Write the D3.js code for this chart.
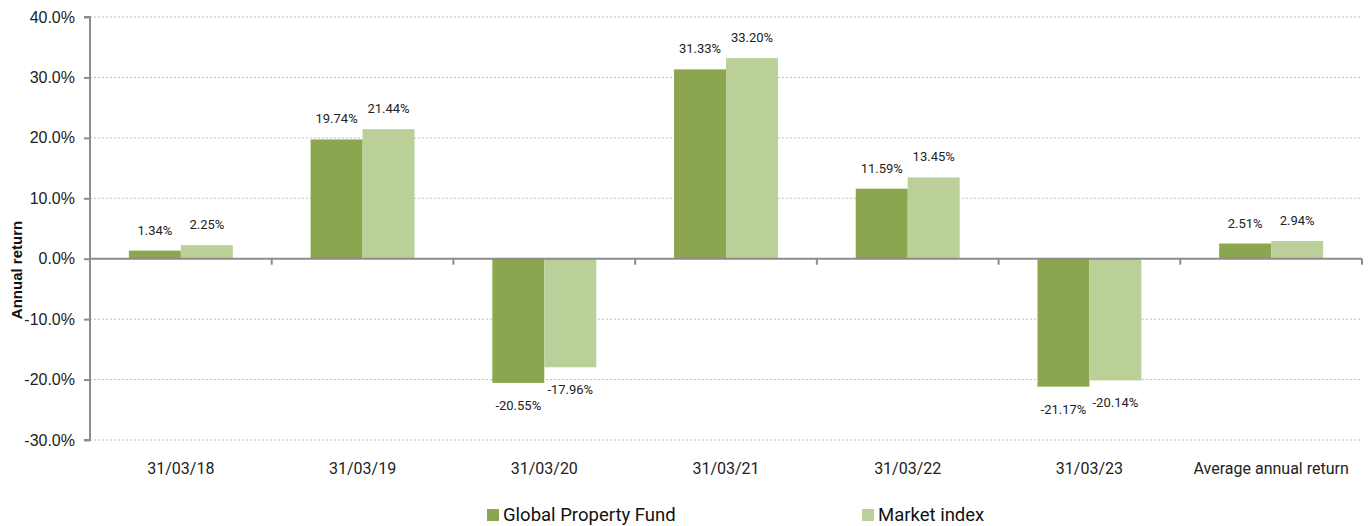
<!DOCTYPE html>
<html>
<head>
<meta charset="utf-8">
<script src="https://cdn.jsdelivr.net/npm/d3@7"></script>
<style>
  body { margin: 0; background: #fff; }
  svg { display: block; font-family: Roboto, "Noto Sans", sans-serif; }
  .axis path, .axis line { stroke: #8c8c8c; stroke-width: 2; }
  .axis text { fill: #222; font-size: 16px; }
  .grid line { stroke: #bdbdbd; stroke-dasharray: 2 2; stroke-width: 1; }
  .value { font-size: 13px; fill: #222; }
</style>
</head>
<body>
<div class="chart"></div>
<script>
const categories = ['31/03/18', '31/03/19', '31/03/20', '31/03/21', '31/03/22', '31/03/23', 'Average annual return']
const seriesNames = ['Global Property Fund', 'Market index']
const fundValues = [1.34, 19.74, -20.55, 31.33, 11.59, -21.17, 2.51]
const indexValues = [2.25, 21.44, -17.96, 33.20, 13.45, -20.14, 2.94]
const yTicks = [-30, -20, -10, 0, 10, 20, 30, 40]

const colors = ['#8ba64f', '#bad098']

const width = 1369
const height = 526
const margin = { top: 17, right: 7, bottom: 86, left: 90 }
const innerW = width - margin.left - margin.right
const innerH = height - margin.top - margin.bottom

const data = categories.map((c, i) => ({ cat: c, values: [fundValues[i], indexValues[i]] }))

const svg = d3.select('.chart').append('svg')
	.attr('width', width)
	.attr('height', height)

const g = svg.append('g')
	.attr('transform', `translate(${margin.left},${margin.top})`)

const x = d3.scaleBand().domain(categories).range([0, innerW]).padding(0)
const barW = x.bandwidth() * 0.286
const xSub = d3.scaleBand().domain([0, 1]).range([-barW, barW]).padding(0)
const y = d3.scaleLinear().domain([-30, 40]).range([innerH, 0])

// gridlines
g.append('g')
	.attr('class', 'grid')
	.selectAll('line')
	.data(yTicks.filter(t => t !== 0))
	.enter().append('line')
		.attr('x1', 0)
		.attr('x2', innerW)
		.attr('y1', d => y(d))
		.attr('y2', d => y(d))

// y axis
const yAxis = g.append('g')
	.attr('class', 'axis axis--y')
	.call(d3.axisLeft(y).tickValues(yTicks).tickSize(6).tickPadding(9).tickFormat(d => d.toFixed(1) + '%'))
yAxis.select('.domain').attr('d', `M-6,${y(40)}H0V${y(-30)}H-6`)

// bars
const group = g.selectAll('.cat')
	.data(data)
	.enter().append('g')
		.attr('class', 'cat')
		.attr('transform', d => `translate(${x(d.cat) + x.bandwidth() / 2},0)`)

group.selectAll('rect')
	.data(d => d.values)
	.enter().append('rect')
		.attr('x', (d, i) => xSub(i))
		.attr('width', xSub.bandwidth())
		.attr('y', d => y(Math.max(0, d)))
		.attr('height', d => Math.abs(y(d) - y(0)))
		.attr('fill', (d, i) => colors[i])

group.selectAll('.value')
	.data(d => d.values)
	.enter().append('text')
		.attr('class', 'value')
		.attr('text-anchor', 'middle')
		.attr('x', (d, i) => xSub(i) + xSub.bandwidth() / 2)
		.attr('y', d => d >= 0 ? y(d) - 16 : y(d) + 27)
		.text(d => d.toFixed(2) + '%')

// x axis at zero
const xAxis = g.append('g')
	.attr('class', 'axis axis--x')
	.attr('transform', `translate(0,${y(0)})`)
xAxis.append('line')
	.attr('x1', 0).attr('x2', innerW)
xAxis.selectAll('.tick')
	.data(categories)
	.enter().append('line')
		.attr('x1', d => x(d) + x.bandwidth())
		.attr('x2', d => x(d) + x.bandwidth())
		.attr('y1', 0).attr('y2', 6)

// category labels
g.append('g')
	.attr('class', 'axis')
	.selectAll('text')
	.data(categories)
	.enter().append('text')
		.attr('x', d => x(d) + x.bandwidth() / 2)
		.attr('y', innerH + 34)
		.attr('text-anchor', 'middle')
		.text(d => d)

// y label
svg.append('text')
	.attr('transform', `translate(22,270) rotate(-90)`)
	.attr('text-anchor', 'middle')
	.style('font-family', '"Liberation Sans", Arial, sans-serif')
	.style('font-size', '15px')
	.style('font-weight', 'bold')
	.attr('fill', '#111')
	.text('Annual return')

// legend
const legendX = [487, 862]
const legend = svg.selectAll('.legend')
	.data(seriesNames)
	.enter().append('g')
		.attr('class', 'legend')
		.attr('transform', (d, i) => `translate(${legendX[i]},509)`)

legend.append('rect')
	.attr('width', 12).attr('height', 12)
	.attr('fill', (d, i) => colors[i])

legend.append('text')
	.attr('x', 16).attr('y', 12)
	.style('font-size', '18.5px')
	.attr('fill', '#111')
	.text(d => d)
</script>
</body>
</html>
